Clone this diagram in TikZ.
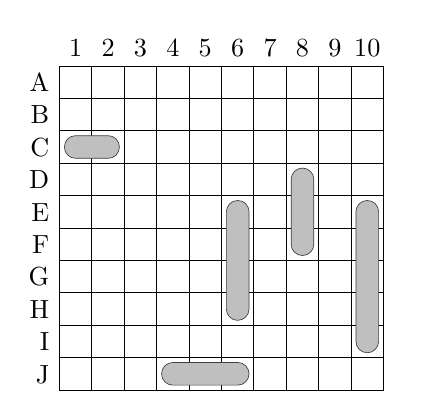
\documentclass[tikz,border=0pt]{standalone}
\begin{document}
\begin{tikzpicture}[x=1cm,y=1cm,
  gridline/.style={line width=0.85pt},
  lbl/.style={inner sep=0pt,scale=2.3,font=\fontsize{10}{12}\selectfont},
  ship/.style={draw=black!75,line width=0.6pt,fill=black!25,rounded corners=0.35cm}]
\useasboundingbox (-1.836,2.037) rectangle (11.497,-10.648);
\draw[gridline] (0,0) grid (10,-10);
\foreach \i in {1,...,10}
  \node[lbl,anchor=base] (c\i) at (\i-0.5,0.29) {\i};
\foreach \l [count=\j] in {A,B,C,D,E,F,G,H,I,J}
  \node[lbl,anchor=base east] (r\j) at (-0.3,-\j+0.5-0.287) {\l};
% ships
\draw[ship] (0.15,-2.15) rectangle (1.85,-2.85);
\draw[ship] (7.15,-3.15) rectangle (7.85,-5.85);
\draw[ship] (5.15,-4.15) rectangle (5.85,-7.85);
\draw[ship] (9.15,-4.15) rectangle (9.85,-8.85);
\draw[ship] (3.15,-9.15) rectangle (5.85,-9.85);
\end{tikzpicture}
\end{document}
